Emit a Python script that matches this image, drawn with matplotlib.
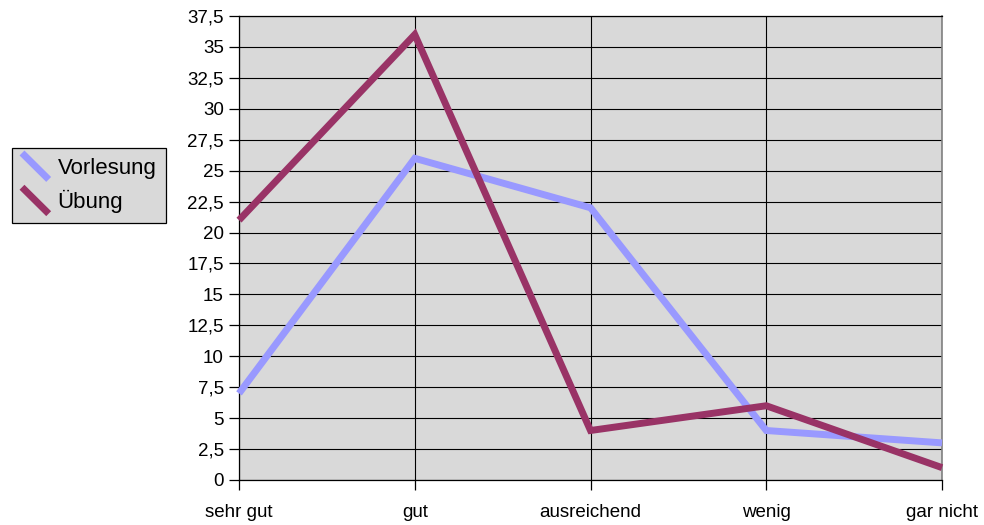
import matplotlib.pyplot as plt
from matplotlib.lines import Line2D
from matplotlib.legend_handler import HandlerBase

plt.rcParams['font.family'] = ['Liberation Sans', 'DejaVu Sans']

kategorien = ['sehr gut', 'gut', 'ausreichend', 'wenig', 'gar nicht']
vorlesung = [7, 26, 22, 4, 3]
uebung = [21, 36, 4, 6, 1]
yticks = [0, 2.5, 5, 7.5, 10, 12.5, 15, 17.5, 20, 22.5, 25, 27.5, 30, 32.5, 35, 37.5]
ylabels = [('%g' % v).replace('.', ',') for v in yticks]


class DiagHandler(HandlerBase):
    # excel style legend key: a diagonal stroke
    def create_artists(self, legend, orig_handle, xdescent, ydescent,
                       width, height, fontsize, trans):
        x0, x1 = -xdescent, -xdescent + width
        y0, y1 = -ydescent - height * 0.35, -ydescent + height * 1.35
        l = Line2D([x0, x1], [y1, y0], color=orig_handle.get_color(),
                   lw=orig_handle.get_linewidth(), solid_capstyle='butt',
                   transform=trans)
        return [l]


fig = plt.figure(figsize=(9.84, 5.25), dpi=100)
ax = fig.add_axes([239/984, 45/525, (942-239)/984, (480-16)/525])
ax.set_facecolor('#d9d9d9')

x = list(range(len(kategorien)))
l1, = ax.plot(x, vorlesung, color='#9999ff', lw=5, clip_on=False,
              solid_joinstyle='miter', solid_capstyle='butt', zorder=3)
l2, = ax.plot(x, uebung, color='#993366', lw=5, clip_on=False,
              solid_joinstyle='miter', solid_capstyle='butt', zorder=4)

ax.set_xlim(0, 4)
ax.set_ylim(0, 37.5)
ax.set_xticks(x)
ax.set_xticklabels(kategorien, fontsize=13.5)
ax.set_yticks(yticks)
ax.set_yticklabels(ylabels, fontsize=13.5)
ax.tick_params(axis='both', direction='out', length=7, width=0.9, color='black')
ax.tick_params(axis='y', pad=4)
ax.tick_params(axis='x', pad=10)

ax.set_axisbelow(True)
ax.grid(True, color='black', lw=0.8)
for s in ['left', 'bottom', 'top']:
    ax.spines[s].set_color('black')
    ax.spines[s].set_linewidth(0.9)
ax.spines['right'].set_color('#808080')
ax.spines['right'].set_linewidth(1.2)

leg = fig.legend([l1, l2], ['Vorlesung', 'Übung'],
                 handler_map={Line2D: DiagHandler()},
                 loc='upper left', bbox_to_anchor=(12/984, 1 - 148/525),
                 fontsize=16, frameon=True, fancybox=False,
                 facecolor='#d9d9d9', edgecolor='black', framealpha=1,
                 handlelength=1.2, handletextpad=0.4, labelspacing=0.5,
                 borderpad=0.45, borderaxespad=0)
leg.get_frame().set_linewidth(0.9)

fig.savefig('out.png', dpi=100)
